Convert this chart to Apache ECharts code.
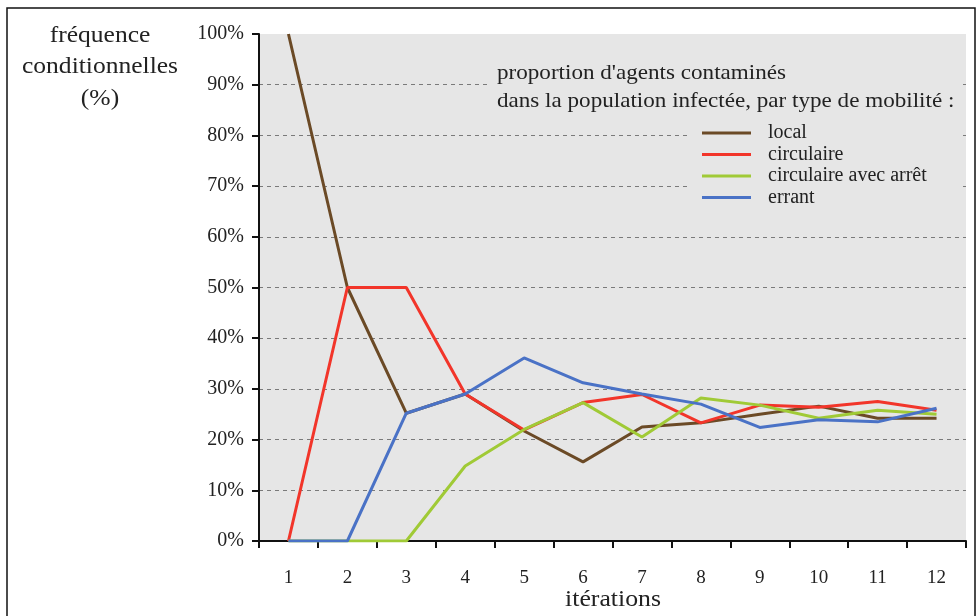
<!DOCTYPE html>
<html><head><meta charset="utf-8">
<script src="https://cdn.jsdelivr.net/npm/echarts@6/dist/echarts.min.js"></script>
<style>html,body{margin:0;padding:0;background:#fff}#c{width:977px;height:616px}</style>
</head><body><div id="c"></div>
<script>
const iterations = ['1','2','3','4','5','6','7','8','9','10','11','12'];
const seriesNames = ['local','circulaire','circulaire avec arrêt','errant'];
const local      = [100, 50, 25.2, 29, 21.7, 15.6, 22.5, 23.3, 25.0, 26.6, 24.2, 24.2];
const circulaire = [0, 50, 50, 29, 21.9, 27.3, 28.9, 23.3, 26.8, 26.4, 27.5, 25.8];
const circArret  = [0, 0, 0, 14.8, 22.0, 27.3, 20.5, 28.2, 26.8, 24.2, 25.8, 25.0];
const errant     = [0, 0, 25.2, 29, 36.1, 31.2, 29.0, 27.0, 22.4, 23.9, 23.5, 26.2];
const colors = ['#6b4a26', '#f2352a', '#a0ca36', '#4a72c6'];
const legendTitle = ["proportion d'agents contaminés", "dans la population infectée, par type de mobilité :"];
const yTitle = ['fréquence', 'conditionnelles', '(%)'];
const xTitle = 'itérations';

const serif = '"Liberation Serif", "DejaVu Serif", serif';
const chart = echarts.init(document.getElementById('c'));
const values = [local, circulaire, circArret, errant];
chart.setOption({
  animation: false,
  textStyle: {fontFamily: serif},
  grid: {left: 259, top: 34, right: 11, bottom: 75, show: true, backgroundColor: '#e6e6e6', borderWidth: 0},
  xAxis: {
    type: 'category', data: iterations, boundaryGap: true,
    axisLine: {lineStyle: {color: '#111', width: 2}},
    axisTick: {show: true, length: 7, lineStyle: {color: '#111', width: 2}},
    axisLabel: {color: '#222', fontSize: 19, fontFamily: serif, margin: 28}
  },
  yAxis: {
    type: 'value', min: 0, max: 100, interval: 10,
    axisLine: {show: true, lineStyle: {color: '#111', width: 2}},
    axisTick: {show: true, length: 7, lineStyle: {color: '#111', width: 2}},
    axisLabel: {formatter: '{value}%', color: '#222', fontSize: 20, fontFamily: serif, margin: 15, padding: [4, 0, 0, 0]},
    splitLine: {show: true, showMaxLine: false, lineStyle: {color: '#7a7a7a', width: 1, type: [4, 4]}}
  },
  legend: {
    data: seriesNames, orient: 'vertical', left: 697, top: 118, itemGap: 1.5,
    icon: 'rect', itemWidth: 49, itemHeight: 3,
    textStyle: {color: '#222', fontSize: 20, fontFamily: serif, padding: [0, 0, 0, 12]}
  },
  graphic: [
    {type: 'rect', z: 1, shape: {x: 487, y: 57, width: 476, height: 58}, style: {fill: '#e6e6e6'}},
    {type: 'rect', z: 1, shape: {x: 687, y: 113, width: 276, height: 92}, style: {fill: '#e6e6e6'}},
    {type: 'text', z: 5, x: 497, y: 73, scaleX: 1.1, style: {text: legendTitle[0], fontSize: 21, fontFamily: serif, fill: '#222', verticalAlign: 'middle'}},
    {type: 'text', z: 5, x: 497, y: 101, scaleX: 1.1, style: {text: legendTitle[1], fontSize: 21, fontFamily: serif, fill: '#222', verticalAlign: 'middle'}},
    {type: 'text', z: 5, x: 100, y: 20, scaleX: 1.11, style: {text: yTitle.join('\n'), fontSize: 23, lineHeight: 31.5, fontFamily: serif, fill: '#222', align: 'center'}},
    {type: 'text', z: 5, x: 613, y: 600, scaleX: 1.12, style: {text: xTitle, fontSize: 23, fontFamily: serif, fill: '#222', align: 'center', verticalAlign: 'middle'}},
    {type: 'rect', z: 10, shape: {x: 7, y: 8, width: 968, height: 640}, style: {fill: 'none', stroke: '#111', lineWidth: 1.5}}
  ],
  series: seriesNames.map((n, i) => ({
    name: n, type: 'line', data: values[i], symbol: 'none', z: 3 + i,
    lineStyle: {color: colors[i], width: 3}, itemStyle: {color: colors[i]}
  }))
});
</script></body></html>
